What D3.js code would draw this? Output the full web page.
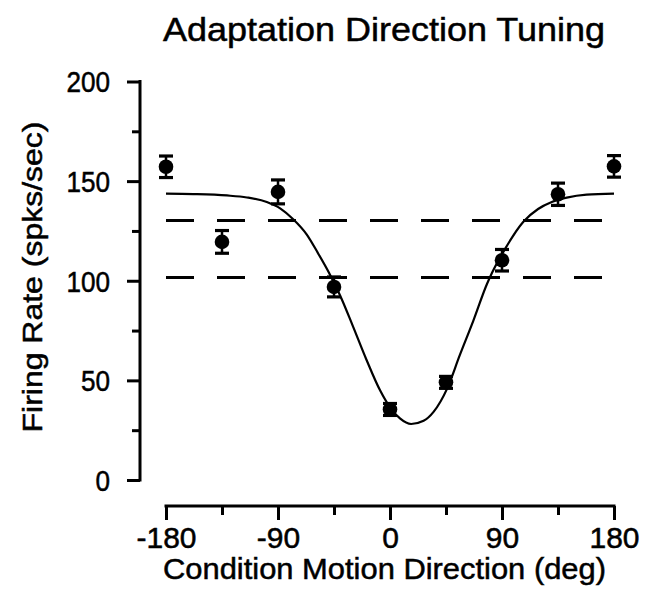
<!DOCTYPE html>
<html>
<head>
<meta charset="utf-8">
<script src="https://cdn.jsdelivr.net/npm/d3@7"></script>
<style>
  html, body { margin: 0; padding: 0; background: #fff; }
  svg { display: block; }
  text { font-family: "Liberation Sans", Arial, Helvetica, sans-serif; fill: #000; }
</style>
</head>
<body>
<svg id="chart" width="647" height="603"></svg>
<script>
// ---- data ----
const directions = [-180, -135, -90, -45, 0, 45, 90, 135, 180];
const rates      = [157.2, 119.5, 144.6, 96.9, 35.4, 49.0, 110.3, 143.4, 157.4];
const errors     = [5.4, 5.7, 6.0, 5.0, 3.0, 3.0, 5.4, 5.6, 5.4];

const fitX = [-180, -158, -131, -115, -99, -88, -78, -67, -58, -48, -40, -30, -19, -8, 0, 8, 17, 27, 35, 46, 56, 67, 78, 82, 92, 107, 119, 130, 142, 158, 180];
const fitY = [143.7, 143.5, 142.8, 141.8, 139.5, 136.2, 131.0, 123.3, 114.0, 102.8, 92.5, 77.5, 60.5, 45.0, 36.5, 30.9, 28.1, 29.7, 34.2, 46.0, 62.5, 80.0, 98.5, 104.0, 115.5, 129.5, 136.0, 139.5, 141.7, 143.2, 143.7];

const refLevels = [130.3, 101.6];

const xTicksMajor = [-180, -90, 0, 90, 180];
const xTicksMinor = [-135, -45, 45, 135];
const yTicksMajor = [0, 50, 100, 150, 200];
const yTicksMinor = [25, 75, 125, 175];

const titleText = "Adaptation Direction Tuning";
const xTitle = "Condition Motion Direction (deg)";
const yTitle = "Firing Rate (spks/sec)";

// ---- drawing ----
const svg = d3.select("#chart");
const x = d3.scaleLinear().domain([-180, 180]).range([166, 614]);
const y = d3.scaleLinear().domain([0, 200]).range([480, 81.5]);
const fmt = d => String(d); // plain hyphen-minus, as in the original

const axisX = 140, axisY = 506;

// Y axis
const gy = svg.append("g").attr("transform", `translate(${axisX},0)`)
  .call(d3.axisLeft(y).tickValues(yTicksMajor).tickSize(13).tickPadding(17).tickFormat(fmt));
gy.append("g").call(d3.axisLeft(y).tickValues(yTicksMinor).tickSize(8).tickFormat(""));
gy.selectAll(".domain").remove();
gy.selectAll("line").attr("stroke", "#000").attr("stroke-width", 3);
gy.append("line").attr("x1", 0).attr("x2", 0).attr("y1", y(200) - 1.5).attr("y2", y(0) + 1.5)
  .attr("stroke", "#000").attr("stroke-width", 3);
gy.selectAll(".tick text").attr("dy", "0.36em").attr("font-size", 29);

// X axis
const gx = svg.append("g").attr("transform", `translate(0,${axisY})`)
  .call(d3.axisBottom(x).tickValues(xTicksMajor).tickSize(14).tickPadding(7).tickFormat(fmt));
gx.append("g").call(d3.axisBottom(x).tickValues(xTicksMinor).tickSize(9).tickFormat(""));
gx.selectAll(".domain").remove();
gx.selectAll("line").attr("stroke", "#000").attr("stroke-width", 3);
gx.append("line").attr("y1", 0).attr("y2", 0).attr("x1", x(-180) - 1.5).attr("x2", x(180) + 1.5)
  .attr("stroke", "#000").attr("stroke-width", 3);
gx.selectAll(".tick text").attr("dy", "0.71em").attr("font-size", 30);

svg.selectAll(".tick text")
  .attr("font-family", "Liberation Sans, Arial, sans-serif")
  .attr("fill", "#000").attr("stroke", "#000").attr("stroke-width", 0.5);
gy.selectAll(".tick text").each(function() {
  const len = this.getComputedTextLength();
  d3.select(this).attr("textLength", len * 0.9).attr("lengthAdjust", "spacingAndGlyphs");
});

// Reference dashed lines
svg.append("g").selectAll("line").data(refLevels).join("line")
  .attr("x1", x(-180)).attr("x2", x(180))
  .attr("y1", d => y(d)).attr("y2", d => y(d))
  .attr("stroke", "#000").attr("stroke-width", 3)
  .attr("stroke-dasharray", "28,23");

// Fitted curve
const fitPts = fitX.map((d, i) => [d, fitY[i]]);
svg.append("path").datum(fitPts)
  .attr("d", d3.line().x(d => x(d[0])).y(d => y(d[1])).curve(d3.curveMonotoneX))
  .attr("fill", "none").attr("stroke", "#000").attr("stroke-width", 2.2);

// Error bars + points
const pts = directions.map((d, i) => ({ d, r: rates[i], e: errors[i] }));
const eb = svg.append("g");
eb.selectAll("line.v").data(pts).join("line").attr("class", "v")
  .attr("x1", p => x(p.d)).attr("x2", p => x(p.d))
  .attr("y1", p => y(p.r + p.e)).attr("y2", p => y(p.r - p.e))
  .attr("stroke", "#000").attr("stroke-width", 2.5);
eb.selectAll("line.top").data(pts).join("line").attr("class", "top")
  .attr("x1", p => x(p.d) - 7).attr("x2", p => x(p.d) + 7)
  .attr("y1", p => y(p.r + p.e)).attr("y2", p => y(p.r + p.e))
  .attr("stroke", "#000").attr("stroke-width", 3.2);
eb.selectAll("line.bot").data(pts).join("line").attr("class", "bot")
  .attr("x1", p => x(p.d) - 7).attr("x2", p => x(p.d) + 7)
  .attr("y1", p => y(p.r - p.e)).attr("y2", p => y(p.r - p.e))
  .attr("stroke", "#000").attr("stroke-width", 3.2);
svg.append("g").selectAll("circle").data(pts).join("circle")
  .attr("cx", p => x(p.d)).attr("cy", p => y(p.r)).attr("r", 7.3).attr("fill", "#000");

// Titles
svg.append("text").attr("x", 384).attr("y", 41).attr("text-anchor", "middle")
  .attr("font-size", 34).attr("stroke", "#000").attr("stroke-width", 0.5)
  .attr("textLength", 442).attr("lengthAdjust", "spacingAndGlyphs").text(titleText);

svg.append("text").attr("x", 384.5).attr("y", 579).attr("text-anchor", "middle")
  .attr("font-size", 29.5).attr("stroke", "#000").attr("stroke-width", 0.5)
  .attr("textLength", 443).attr("lengthAdjust", "spacingAndGlyphs").text(xTitle);

svg.append("text").attr("transform", "translate(42,277) rotate(-90)").attr("text-anchor", "middle")
  .attr("font-size", 28.5).attr("stroke", "#000").attr("stroke-width", 0.5)
  .attr("textLength", 311).attr("lengthAdjust", "spacingAndGlyphs").text(yTitle);
</script>
</body>
</html>
